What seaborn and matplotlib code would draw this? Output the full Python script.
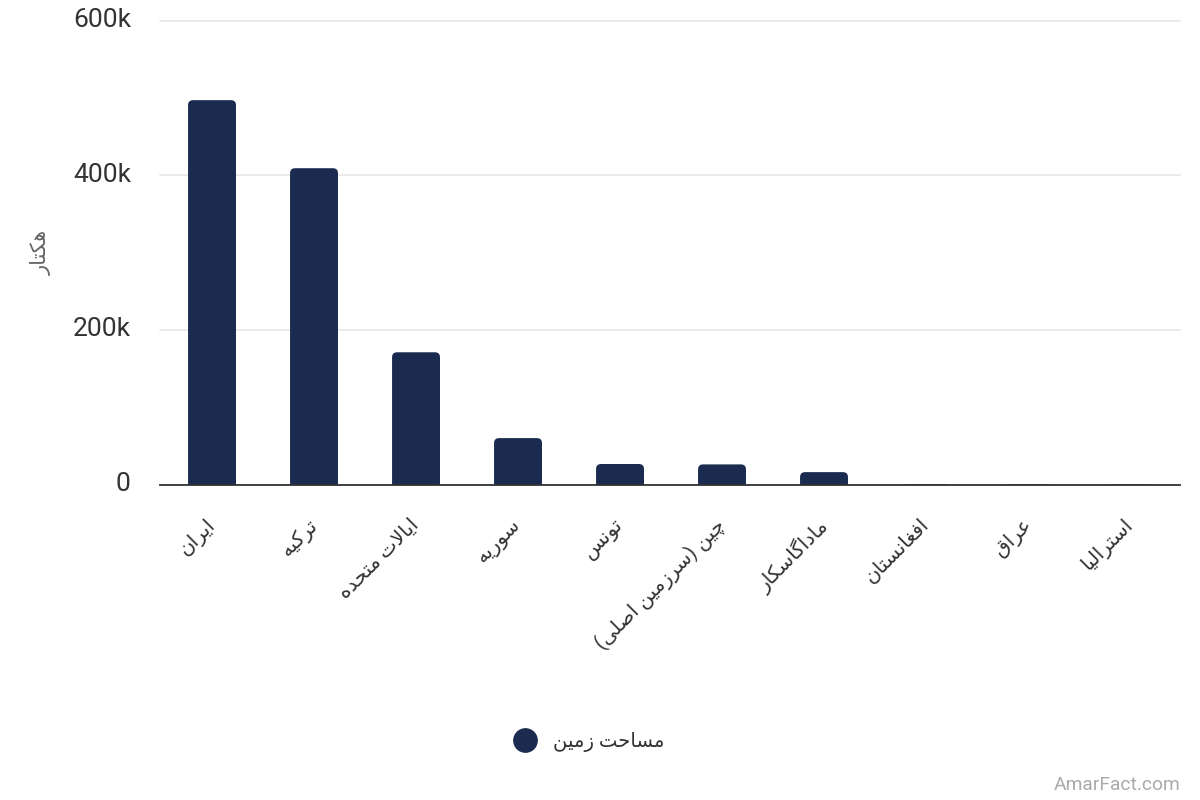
import matplotlib
matplotlib.use('Agg')
import matplotlib.pyplot as plt
import seaborn as sns
from matplotlib.lines import Line2D
from matplotlib.patches import FancyBboxPatch
from matplotlib.transforms import IdentityTransform, ScaledTranslation

countries = ['ایران', 'ترکیه', 'ایالات متحده', 'سوریه', 'تونس',
             'چین (سرزمین اصلی)', 'ماداگاسکار', 'افغانستان', 'عراق', 'استرالیا']
land_area = [497000, 409000, 171000, 60000, 26500, 26000, 16000, 300, 200, 100]
y_ticks = [0, 200000, 400000, 600000]
y_tick_labels = ['0', '200k', '400k', '600k']
series_name = 'مساحت زمین'
y_title = 'هکتار'
credit = 'AmarFact.com'

BAR_COLOR = '#1b2b4f'
TEXT_COLOR = '#333333'

# matplotlib does no Arabic shaping, so map letters to presentation forms
# (isolated, final, initial, medial start at the given code point)
FORMS = {'ب': 0xFE8F, 'پ': 0xFB56, 'ت': 0xFE95, 'ح': 0xFEA1, 'چ': 0xFB7A, 'س': 0xFEB1,
         'ص': 0xFEB9, 'ع': 0xFEC9, 'غ': 0xFECD, 'ف': 0xFED1, 'ق': 0xFED5, 'ک': 0xFB8E,
         'گ': 0xFB92, 'ل': 0xFEDD, 'م': 0xFEE1, 'ن': 0xFEE5, 'ه': 0xFEE9, 'ی': 0xFBFC}
# these only join to the letter before them
RIGHT_ONLY = {'ا': 0xFE8D, 'د': 0xFEA9, 'ر': 0xFEAD, 'ز': 0xFEAF, 'و': 0xFEED}


def shape(text):
    text = text.replace('لا', '\uE000')  # lam-alef ligature placeholder
    out = []
    for i, ch in enumerate(text):
        prev = text[i - 1] if i > 0 else ' '
        nxt = text[i + 1] if i < len(text) - 1 else ' '
        joins_prev = prev in FORMS
        joins_next = nxt in FORMS or nxt in RIGHT_ONLY or nxt == '\uE000'
        if ch == '\uE000':
            out.append('\uFEFC' if joins_prev else '\uFEFB')
        elif ch in RIGHT_ONLY:
            out.append(chr(RIGHT_ONLY[ch] + (1 if joins_prev else 0)))
        elif ch in FORMS:
            if joins_prev and joins_next:
                offset = 3
            elif joins_next:
                offset = 2
            elif joins_prev:
                offset = 1
            else:
                offset = 0
            out.append(chr(FORMS[ch] + offset))
        else:
            out.append({'(': ')', ')': '('}.get(ch, ch))
    return ''.join(reversed(out))


sns.set_theme(style='white')
plt.rcParams['font.family'] = ['Roboto', 'DejaVu Sans']

fig = plt.figure(figsize=(12, 8), dpi=100)
ax = fig.add_axes([160 / 1200, 1 - 484.5 / 800, 1020 / 1200, 464 / 800])

labels = [shape(c) for c in countries]
sns.barplot(x=labels, y=land_area, color=BAR_COLOR, saturation=1, width=0.47, linewidth=0,
            edgecolor='none', ax=ax, zorder=3)

ax.set_xlim(-0.51, 9.49)
ax.set_ylim(0, 600000)
ax.set_yticks(y_ticks)
ax.set_yticklabels(y_tick_labels, fontsize=19, color=TEXT_COLOR)
ax.yaxis.grid(True, color='#e6e6e6', linewidth=1.2, zorder=0)
for line in ax.get_ygridlines():
    line.set_clip_on(False)
ax.set_axisbelow(True)
ax.tick_params(axis='y', length=0, pad=21)
ax.tick_params(axis='x', length=0, pad=22)
sns.despine(ax=ax, left=True)
ax.spines['bottom'].set_color(TEXT_COLOR)
ax.spines['bottom'].set_linewidth(1.3)
ax.spines['bottom'].set_zorder(4)

offset = ScaledTranslation(-7 / 100, 0, fig.dpi_scale_trans)
for t in ax.get_xticklabels():
    t.set_rotation(45)
    t.set_rotation_mode('anchor')
    t.set_ha('right')
    t.set_va('top')
    t.set_fontsize(14.6)
    t.set_color(TEXT_COLOR)
    t.set_transform(t.get_transform() + offset)
for t in ax.get_yticklabels():
    t.set_transform(t.get_transform() + ScaledTranslation(0, 3 / 100, fig.dpi_scale_trans))

ax.set_ylabel(shape(y_title), fontsize=15, color='#666666', labelpad=0)
ax.yaxis.set_label_coords(52 / 1200, 1 - 252 / 800, transform=fig.transFigure)

# rounded tops: clip each bar with a pixel sized round box
fig.canvas.draw()
radius = 5
for bar in ax.patches:
    box = bar.get_window_extent()
    clip = FancyBboxPatch((box.x0 + radius, box.y0 - radius), box.width - 2 * radius,
                          box.height, boxstyle=f'round,pad={radius},rounding_size={radius}',
                          transform=IdentityTransform())
    bar.set_clip_path(clip)

handle = Line2D([], [], marker='o', linestyle='', color=BAR_COLOR, markersize=16.8)
ax.legend([handle], [shape(series_name)], loc='center', frameon=False,
          bbox_to_anchor=(585 / 1200, 1 - 742 / 800), bbox_transform=fig.transFigure,
          fontsize=14.1, labelcolor=TEXT_COLOR, handletextpad=0.45)

fig.text(1180 / 1200, 1 - 784.5 / 800, credit, ha='right', va='center', fontsize=13.9, color='#aaaaaa')

fig.savefig('out.png', dpi=100, facecolor='white')
